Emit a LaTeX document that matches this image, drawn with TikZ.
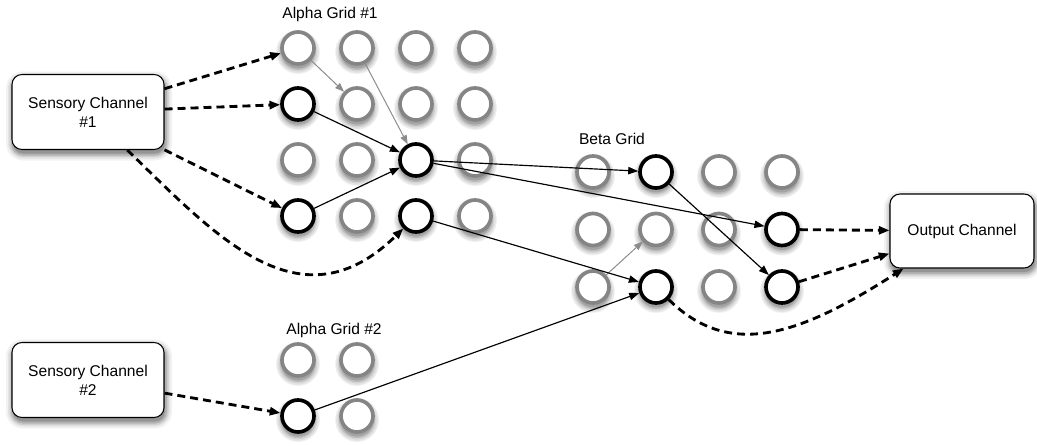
\documentclass[tikz,border=0pt]{standalone}
\usepackage{fontspec}
\setmainfont{Liberation Sans}
\usetikzlibrary{arrows.meta}

\begin{document}
\begin{tikzpicture}[x=0.03cm,y=0.03cm]
\tikzset{
  channel/.style={rectangle,rounded corners=0.3cm,draw=black,fill=white,line width=0.9pt,text centered,align=center,font=\fontsize{13.3}{16.2}\selectfont,minimum width=4.56cm,minimum height=2.25cm},
  gridlabel/.style={text centered,font=\fontsize{13.3}{16.2}\selectfont},
  idle/.style={circle,draw=black!48,fill=white,line width=0.11cm,minimum size=0.96cm,inner sep=0pt},
  fired/.style={idle,draw=black},
  link/.style={-{Triangle[length=0.3cm,width=0.22cm]},line width=0.035cm,draw=black},
  weak/.style={-{Triangle[length=0.27cm,width=0.2cm]},line width=0.03cm,draw=black!45},
  feed/.style={-{Triangle[length=0.32cm,width=0.24cm]},line width=0.085cm,dash pattern=on 0.24cm off 0.15cm,draw=black},
  halo/.style={fill=black!#1,draw=none},
}
\useasboundingbox (0,-445) rectangle (1037,0);
%
% shade under the channel boxes
\foreach \x/\y/\w/\h in {88/-112/152/75,88/-380/152/75,962/-231/144/74}
  \foreach \g/\d in {5/7,11/5,19/3.5,30/2,42/0}
    \fill[halo=\g,rounded corners=0.3cm+\d*0.03cm]
      ({\x-\w/2+1-\d},{\y-\h/2-4-\d}) rectangle ({\x+\w/2+1+\d},{\y+\h/2-4+\d});
%
\node[channel] (sense1) at (88,-112) {Sensory Channel\\\#1};
\node[channel] (sense2) at (88,-380) {Sensory Channel\\\#2};
\node[channel,minimum width=4.32cm,minimum height=2.22cm] (output) at (962,-231) {Output Channel};
%
\node[gridlabel] (alphaonelabel) at (330,-14) {Alpha Grid \#1};
\node[gridlabel] (betalabel) at (612,-139) {Beta Grid};
\node[gridlabel] (alphatwolabel) at (334,-330) {Alpha Grid \#2};
%
% shade under every grid cell
\foreach \x/\y in {298/-48,357/-48,416/-48,475/-48,298/-104,357/-104,416/-104,475/-104,
                   298/-160,357/-160,416/-160,475/-160,298/-216,357/-216,416/-216,475/-216,
                   593/-172,656/-172,719/-172,782/-172,593/-229.5,656/-229.5,719/-229.5,782/-229.5,
                   593/-287,656/-287,719/-287,782/-287,298/-360,357/-360,298/-416,357/-416}
  \foreach \g/\rad in {5/22,10/21,17/19.5,26/18,36/16.5}
    \fill[halo=\g] (\x,\y-4) circle (\rad);
%
% alpha grid #1
\foreach \r/\c in {1/1,1/2,1/3,1/4,2/2,2/3,2/4,3/1,3/2,3/4,4/2,4/4}
  \node[idle] (a-\r-\c) at ({298+59*(\c-1)},{-48-56*(\r-1)}) {};
\foreach \r/\c in {2/1,3/3,4/1,4/3}
  \node[fired] (a-\r-\c) at ({298+59*(\c-1)},{-48-56*(\r-1)}) {};
% beta grid
\foreach \r/\c in {1/1,1/3,1/4,2/1,2/2,2/3,3/1,3/3}
  \node[idle] (beta-\r-\c) at ({593+63*(\c-1)},{-172-57.5*(\r-1)}) {};
\foreach \r/\c in {1/2,2/4,3/2,3/4}
  \node[fired] (beta-\r-\c) at ({593+63*(\c-1)},{-172-57.5*(\r-1)}) {};
% alpha grid #2
\foreach \r/\c in {1/1,1/2,2/2}
  \node[idle] (b-\r-\c) at ({298+59*(\c-1)},{-360-56*(\r-1)}) {};
\node[fired] (b-2-1) at (298,-416) {};
%
\draw[feed] (sense1) -- (a-1-1);
\draw[feed] (sense1) -- (a-2-1);
\draw[feed] (sense1) -- (a-4-1);
\draw[feed] (sense1) .. controls (215,-235) and (300,-330) .. (a-4-3);
\draw[feed] (sense2) -- (b-2-1);
%
\draw[weak] (a-1-1) -- (a-2-2);
\draw[weak] (a-1-2) -- (a-3-3);
\draw[weak] (beta-3-1) -- (beta-2-2);
%
\draw[link] (a-2-1) -- (a-3-3);
\draw[link] (a-4-1) -- (a-3-3);
\draw[link] (a-3-3) -- (beta-1-2);
\draw[link] (a-3-3) -- (beta-2-4);
\draw[link] (a-4-3) -- (beta-3-2);
\draw[link] (b-2-1) -- (beta-3-2);
\draw[link] (beta-1-2) -- (beta-3-4);
%
\draw[feed] (beta-2-4) -- (output);
\draw[feed] (beta-3-4) -- (output);
\draw[feed] (beta-3-2) .. controls (730,-360) and (800,-335) .. (output);
\end{tikzpicture}
\end{document}
